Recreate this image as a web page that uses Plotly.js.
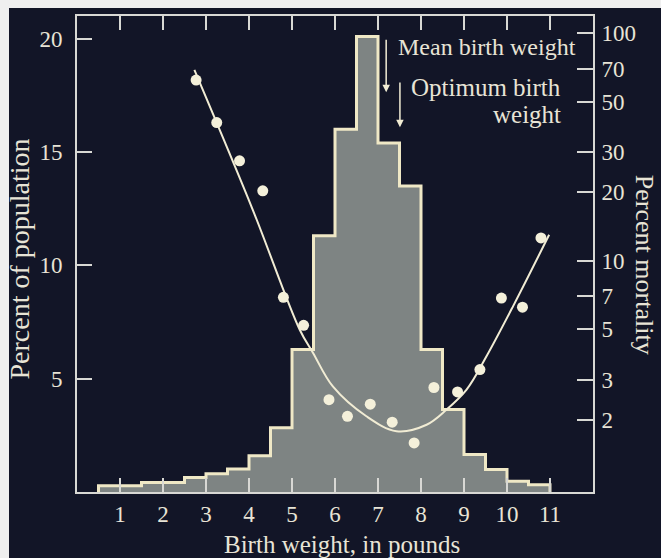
<!DOCTYPE html>
<html><head><meta charset="utf-8">
<script src="https://cdn.plot.ly/plotly-3.0.1.min.js"></script>
<style>
html,body{margin:0;padding:0;background:#121527;}
#wrap{position:relative;width:661px;height:558px;overflow:hidden;}
.strip{position:absolute;background:#efefef;z-index:5;}
</style>
</head><body>
<div id="wrap">
<div id="chart" style="width:661px;height:558px;"></div>
<div class="strip" style="left:0;top:0;width:661px;height:8px;"></div>
<div class="strip" style="left:0;top:0;width:9px;height:558px;"></div>
</div>
<script>
// Histogram: bin edges (pounds) and percent of population per bin
const binEdges = [0.5,1.5,2.5,3.0,3.5,4.0,4.5,5.0,5.5,6.0,6.5,7.0,7.5,8.0,8.5,9.0,9.5,10.0,10.5,11.0];
const popPercent = [0.28,0.42,0.64,0.80,1.02,1.60,2.83,6.29,11.3,16.0,20.1,15.4,13.5,6.29,3.64,1.65,0.99,0.47,0.32];

// Mortality observations
const mortWeight = [2.77,3.25,3.78,4.32,4.80,5.27,5.86,6.29,6.82,7.33,7.84,8.30,8.85,9.37,9.87,10.36,10.79];
const mortPercent = [62.3,40.5,27.5,20.3,6.9,5.2,2.45,2.07,2.34,1.95,1.58,2.77,2.65,3.32,6.85,6.25,12.6];

// Fitted mortality curve
const curveWeight = [2.73,4.09,5.18,5.49,5.95,6.73,7.43,8.13,8.59,9.06,9.52,10.14,10.98];
const curvePercent = [69.0,16.7,4.97,3.93,2.80,2.07,1.78,1.90,2.21,2.71,3.79,6.30,13.0];

const xTicks = [1,2,3,4,5,6,7,8,9,10,11];
const yTicks = [5,10,15,20];
const y2Ticks = [2,3,5,7,10,20,30,50,70,100];

const meanWeight = 7.19;
const optimumWeight = 7.51;

const stepX = [binEdges[0]].concat(binEdges);
const stepY = [0].concat(popPercent, [0]);

const cream = '#f1ecd4';
const axisCol = '#d8d8d4';
const textCol = '#e8e4d6';
const serif = 'Liberation Serif, Times New Roman, serif';

const traces = [
  {x: stepX, y: stepY, type:'scatter', mode:'lines', line:{shape:'hv', color:'#efe8c6', width:3},
   fill:'tozeroy', fillcolor:'#7e8483', hoverinfo:'skip', yaxis:'y'},
  {x: curveWeight, y: curvePercent, type:'scatter', mode:'lines', line:{shape:'spline', color:cream, width:2}, yaxis:'y2'},
  {x: mortWeight, y: mortPercent, type:'scatter', mode:'markers', marker:{size:11, color:'#f4f0da'}, yaxis:'y2'}
];

const tickfont = {family: serif, size: 23, color: textCol};
const layout = {
  width: 661, height: 558,
  margin: {l:77, r:68, t:16, b:66},
  paper_bgcolor: '#121527', plot_bgcolor: '#121527',
  showlegend: false,
  xaxis: {range:[0,12], tickvals:xTicks, ticktext:xTicks.map(String), ticks:'inside', ticklen:14, tickwidth:2, tickcolor:axisCol,
          showline:true, linecolor:axisCol, linewidth:2, mirror:'ticks', showgrid:false, zeroline:false, tickfont:tickfont},
  yaxis: {range:[0,21], tickvals:yTicks, ticktext:yTicks.map(String), ticks:'inside', ticklen:15, tickwidth:2, tickcolor:axisCol,
          showline:true, linecolor:axisCol, linewidth:2, showgrid:false, zeroline:false, tickfont:tickfont, ticklabelstandoff:8},
  yaxis2: {type:'log', range:[-0.017, 2.076], overlaying:'y', side:'right', tickvals:y2Ticks, ticktext:y2Ticks.map(String),
           ticks:'inside', ticklen:16, tickwidth:2, tickcolor:axisCol, showline:true, linecolor:axisCol, linewidth:2,
           showgrid:false, zeroline:false, tickfont:tickfont, ticklabelstandoff:2},
  annotations: [
    {xref:'paper', yref:'paper', x:-0.1110, y:0.49, text:'Percent of population', textangle:-90, showarrow:false,
     font:{family:serif, size:28, color:textCol}, xanchor:'center', yanchor:'middle'},
    {xref:'paper', yref:'paper', x:1.099, y:0.477, text:'Percent mortality', textangle:90, showarrow:false,
     font:{family:serif, size:26, color:textCol}, xanchor:'center', yanchor:'middle'},
    {xref:'paper', yref:'paper', x:0.514, y:-0.11, text:'Birth weight, in pounds', showarrow:false,
     font:{family:serif, size:25, color:textCol}, xanchor:'center', yanchor:'middle'},
    {xref:'x', yref:'y', x:7.42, y:19.62, text:'Mean birth weight', showarrow:false, xanchor:'left', yanchor:'middle',
     font:{family:serif, size:24, color:textCol}},
    {xref:'x', yref:'y', x:11.31, y:17.83, text:'Optimum birth', showarrow:false, xanchor:'right', yanchor:'middle',
     font:{family:serif, size:25, color:textCol}},
    {xref:'x', yref:'y', x:11.31, y:16.64, text:'weight', showarrow:false, xanchor:'right', yanchor:'middle',
     font:{family:serif, size:25, color:textCol}},
    {xref:'x', yref:'y', x:meanWeight, y:17.64, axref:'x', ayref:'y', ax:meanWeight, ay:20.02, text:'', showarrow:true,
     arrowhead:2, arrowsize:1, arrowwidth:1.5, arrowcolor:cream},
    {xref:'x', yref:'y', x:optimumWeight, y:16.09, axref:'x', ayref:'y', ax:optimumWeight, ay:18.13, text:'', showarrow:true,
     arrowhead:2, arrowsize:1, arrowwidth:1.5, arrowcolor:cream}
  ]
};
Plotly.newPlot('chart', traces, layout, {displayModeBar:false, staticPlot:true});
</script>
</body></html>
